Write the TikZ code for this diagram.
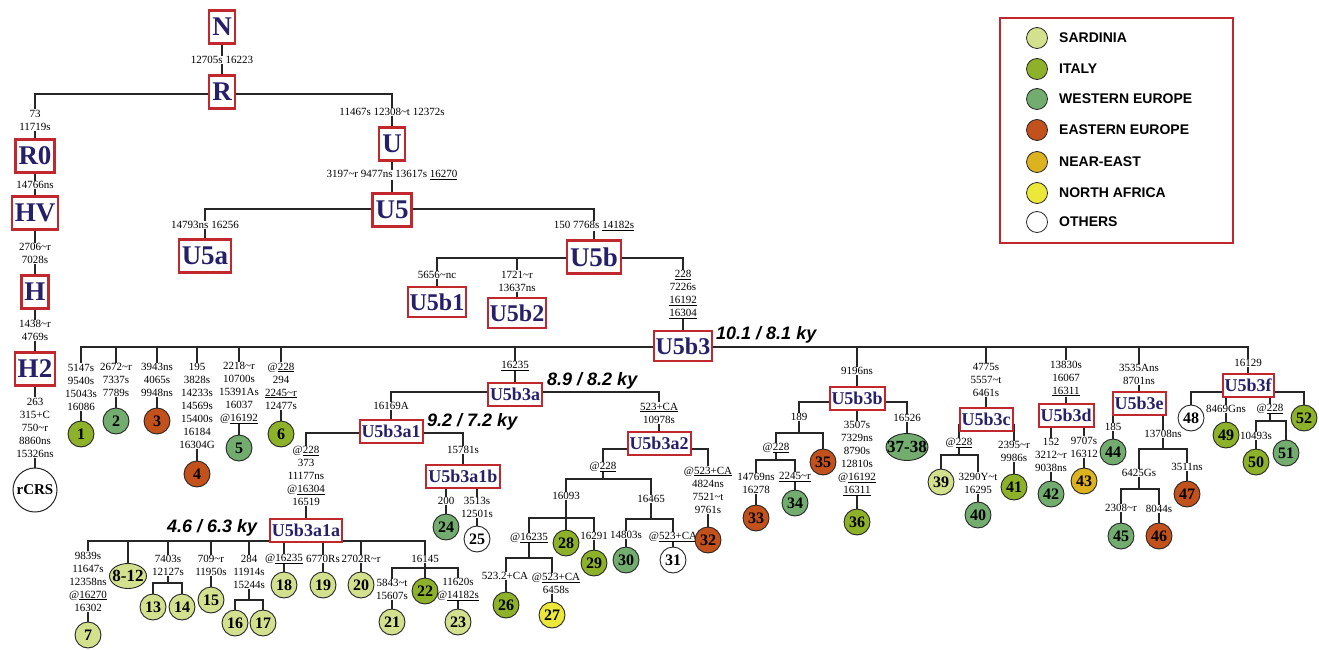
\documentclass[tikz,border=0pt]{standalone}
\usepackage{fontspec}
\setmainfont{Liberation Serif}
\setsansfont{Liberation Sans}
\usetikzlibrary{backgrounds,shapes.geometric}
\definecolor{boxred}{RGB}{192,40,45}
\definecolor{navy}{RGB}{38,32,105}
\definecolor{csar}{RGB}{211,225,143}
\definecolor{cita}{RGB}{141,178,42}
\definecolor{cweu}{RGB}{114,172,110}
\definecolor{ceeu}{RGB}{195,81,28}
\definecolor{cnea}{RGB}{221,178,31}
\definecolor{cnaf}{RGB}{236,232,58}
\newcommand\mytl{\textasciitilde}
\newcommand\uln[1]{\underline{#1}}
\begin{document}
\begin{tikzpicture}[x=1pt,y=-1pt,
  tree/.style={line width=1.4pt, draw=black!85, line cap=rect},
  hbox/.style={draw=boxred, fill=white, text=navy, inner xsep=2pt, inner ysep=1pt},
  big/.style={hbox, line width=2.3pt, font=\fontsize{27}{27}\selectfont\bfseries, minimum height=33pt, inner xsep=3pt},
  mid/.style={hbox, line width=2.2pt, font=\fontsize{24}{24}\selectfont\bfseries, minimum height=30pt},
  sm/.style={hbox, line width=2pt, font=\fontsize{18}{18}\selectfont\bfseries, minimum height=23pt},
  mut/.style={font=\fontsize{11}{13}\selectfont, align=center, inner sep=1pt},
  leaf/.style={circle, draw=black!85, line width=0.9pt, fill=white, minimum size=26pt, inner sep=0pt, font=\fontsize{16}{16}\selectfont\bfseries},
  ell/.style={ellipse, draw=black!85, line width=0.9pt, inner sep=0pt, font=\fontsize{17}{17}\selectfont\bfseries},
  sar/.style={fill=csar}, ita/.style={fill=cita}, weu/.style={fill=cweu},
  eeu/.style={fill=ceeu}, nea/.style={fill=cnea}, naf/.style={fill=cnaf},
  ky/.style={font=\fontsize{18}{18}\selectfont\sffamily\bfseries\itshape, inner sep=0pt, anchor=west},
  legdot/.style={circle, draw=black!85, line width=0.8pt, minimum size=21pt, inner sep=0pt},
  legtxt/.style={font=\fontsize{14}{14}\selectfont\sffamily\bfseries, inner sep=0pt, anchor=west}
]
\useasboundingbox (0,0) rectangle (1319,650);

% ---------- top of tree ----------
\node[big] (N) at (222,27) {N};
\node[mut] (mNR) at (222,60) {12705s 16223};
\node[big] (R) at (222,92) {R};
\coordinate (jR0) at (35,94);
\coordinate (jU) at (392,94);
\node[mut] (mR0) at (35,120) {73\\11719s};
\node[big] (R0) at (35,156) {R0};
\node[mut] (mHV) at (35,185) {14766ns};
\node[big] (HV) at (35,213) {HV};
\node[mut] (mH) at (35,253.5) {2706\mytl r\\7028s};
\node[big] (H) at (35,292) {H};
\node[mut] (mH2) at (35,330.5) {1438\mytl r\\4769s};
\node[big] (H2) at (35,369) {H2};
\node[mut] (mrC) at (35,427.5) {263\\315+C\\750\mytl r\\8860ns\\15326ns};
\node[circle, draw=black!85, line width=1pt, minimum size=44pt, inner sep=0pt, font=\fontsize{15}{15}\selectfont\bfseries] (rCRS) at (35,490) {rCRS};

\node[mut] (mU) at (392,112) {11467s 12308\mytl t 12372s};
\node[big] (U) at (392,144) {U};
\node[mut] (mU5) at (392,175) {3197\mytl r 9477ns 13617s \uln{16270}};
\node[big] (U5) at (392,210) {U5};
\coordinate (jU5a) at (205,209);
\coordinate (jU5b) at (594,209);
\node[mut] (mU5a) at (205,225) {14793ns 16256};
\node[big] (U5a) at (205,256) {U5a};
\node[mut] (mU5b) at (594,226) {150 7768s \uln{14182s}};
\node[big] (U5b) at (594,257) {U5b};
\coordinate (jB1) at (437,258);
\coordinate (jB2) at (517,258);
\coordinate (jB3) at (683,258);
\node[mut] (mB1) at (437,275) {5656\mytl nc};
\node[mid] (U5b1) at (437,302) {U5b1};
\node[mut] (mB2) at (517,281) {1721\mytl r\\13637ns};
\node[mid] (U5b2) at (517,313) {U5b2};
\node[mut] (mB3) at (683,294.5) {\uln{228}\\7226s\\\uln{16192}\\\uln{16304}};
\node[mid] (U5b3) at (683,346) {U5b3};
\node[ky] (k1) at (716,335) {10.1 / 8.1 ky};

% ---------- U5b3 children ----------
\coordinate (jc1) at (81,347);
\coordinate (jc2) at (116,347);
\coordinate (jc3) at (157,347);
\coordinate (jc4) at (197,347);
\coordinate (jc5) at (239,347);
\coordinate (jc6) at (281,347);
\coordinate (jc7) at (515,347);
\coordinate (jc8) at (857,347);
\coordinate (jc9) at (986,347);
\coordinate (jc10) at (1066,347);
\coordinate (jc11) at (1139,347);
\coordinate (jc12) at (1248,347);

\node[mut] (m1) at (81,387) {5147s\\9540s\\15043s\\16086};
\node[leaf,ita] (n1) at (81,434) {1};
\node[mut] (m2) at (116,380) {2672\mytl r\\7337s\\7789s};
\node[leaf,weu] (n2) at (116,421) {2};
\node[mut] (m3) at (157,380) {3943ns\\4065s\\9948ns};
\node[leaf,eeu] (n3) at (157,421) {3};
\node[mut] (m4) at (197,406) {195\\3828s\\14233s\\14569s\\15400s\\16184\\16304G};
\node[leaf,eeu] (n4) at (197,474) {4};
\node[mut] (m5) at (239,393) {2218\mytl r\\10700s\\15391As\\16037\\@\uln{16192}};
\node[leaf,weu] (n5) at (239,448) {5};
\node[mut] (m6) at (281,386) {@\uln{228}\\294\\\uln{2245\mytl r}\\12477s};
\node[leaf,ita] (n6) at (281,434) {6};

% U5b3a
\node[mut] (mA) at (515,366) {\uln{16235}};
\node[sm] (U5b3a) at (515,394) {U5b3a};
\node[ky] (k2) at (547,381) {8.9 / 8.2 ky};
\coordinate (jA1) at (391,392);
\coordinate (jA2) at (659,392);
\node[mut] (mA1) at (391,406) {16169A};
\node[sm] (U5b3a1) at (391,431) {U5b3a1};
\node[ky] (k3) at (427,422) {9.2 / 7.2 ky};
\coordinate (jA1a) at (306,433);
\coordinate (jA1b) at (463,433);
\node[mut] (mA1a) at (306,476) {@\uln{228}\\373\\11177ns\\@\uln{16304}\\16519};
\node[sm] (U5b3a1a) at (306,530) {U5b3a1a};
\node[ky] (k4) at (167,528) {4.6 / 6.3 ky};

\coordinate (jd7) at (88,541);
\coordinate (jd8) at (128,541);
\coordinate (jd13) at (168,541);
\coordinate (jd15) at (211,541);
\coordinate (jd16) at (249,541);
\coordinate (jd18) at (284,541);
\coordinate (jd19) at (323,541);
\coordinate (jd20) at (361,541);
\coordinate (jd22) at (425,541);

\node[mut] (m7) at (88,581.5) {9839s\\11647s\\12358ns\\@\uln{16270}\\16302};
\node[leaf,sar] (n7) at (88,635) {7};
\node[ell,sar,minimum width=37pt,minimum height=25pt] (n8) at (128,576) {\makebox[0pt]{8-12}};
\node[mut] (m13) at (168,565.5) {7403s\\12127s};
\coordinate (j13) at (168,583);
\coordinate (j13a) at (153,583);
\coordinate (j13b) at (182,583);
\node[leaf,sar] (n13) at (153,607) {13};
\node[leaf,sar] (n14) at (182,607) {14};
\node[mut] (m15) at (211,565.5) {709\mytl r\\11950s};
\node[leaf,sar] (n15) at (211,600) {15};
\node[mut] (m16) at (249,572) {284\\11914s\\15244s};
\coordinate (j16) at (249,600);
\coordinate (j16a) at (235,600);
\coordinate (j16b) at (263,600);
\node[leaf,sar] (n16) at (235,623) {16};
\node[leaf,sar] (n17) at (263,623) {17};
\node[mut] (m18) at (284,559) {@\uln{16235}};
\node[leaf,sar] (n18) at (284,585) {18};
\node[mut] (m19) at (323,559) {6770Rs};
\node[leaf,sar] (n19) at (323,585) {19};
\node[mut] (m20) at (361,559) {2702R\mytl r};
\node[leaf,sar] (n20) at (361,585) {20};
\node[mut] (m22) at (425,559) {16145};
\coordinate (j22) at (425,568);
\coordinate (j21) at (392,568);
\coordinate (j23) at (458,568);
\node[mut] (m21) at (392,589.5) {5843\mytl t\\15607s};
\node[leaf,sar] (n21) at (392,622) {21};
\node[leaf,ita] (n22) at (425,591) {22};
\node[mut] (m23) at (458,589.5) {11620s\\@\uln{14182s}};
\node[leaf,sar] (n23) at (458,622) {23};

% U5b3a1b
\node[mut] (mA1b) at (463,450) {15781s};
\node[sm] (U5b3a1b) at (463,476) {U5b3a1b};
\coordinate (j24) at (446,476);
\coordinate (j25) at (477,476);
\node[mut] (m24) at (446,501) {200};
\node[leaf,weu] (n24) at (446,527) {24};
\node[mut] (m25) at (477,507.5) {3513s\\12501s};
\node[leaf] (n25) at (477,539) {25};

% U5b3a2
\node[mut] (mA2) at (659,413) {\uln{523+CA}\\10978s};
\node[sm] (U5b3a2) at (659,443) {U5b3a2};
\coordinate (jE1) at (603,449);
\coordinate (jE2) at (708,449);
\node[mut] (mE1) at (603,467) {@\uln{228}};
\coordinate (jF) at (603,479);
\coordinate (jF1) at (566,479);
\coordinate (jF2) at (651,479);
\node[mut] (mF1) at (566,496) {16093};
\coordinate (jG) at (566,518);
\coordinate (jG1) at (529,518);
\coordinate (jG2) at (594,518);
\node[mut] (mG1) at (529,538) {@\uln{16235}};
\coordinate (jH) at (529,558);
\coordinate (jH1) at (506,558);
\coordinate (jH2) at (552,558);
\node[mut] (m26) at (505,576) {523.2+CA};
\node[leaf,ita] (n26) at (506,605) {26};
\node[mut] (m27) at (556,583.5) {@\uln{523+CA}\\6458s};
\node[leaf,naf] (n27) at (552,615) {27};
\node[leaf,ita] (n28) at (566,543) {28};
\node[mut] (m29) at (594,536) {16291};
\node[leaf,ita] (n29) at (594,563) {29};
\node[mut] (mF2) at (651,499) {16465};
\coordinate (jI) at (651,519);
\coordinate (jI1) at (626,519);
\coordinate (jI2) at (673,519);
\node[mut] (m30) at (626,535) {14803s};
\node[leaf,weu] (n30) at (626,560) {30};
\node[mut] (m31) at (673,537) {@\uln{523+CA}};
\node[leaf] (n31) at (673,560) {31};
\node[mut] (m32) at (708,490) {@\uln{523+CA}\\4824ns\\7521\mytl t\\9761s};
\node[leaf,eeu] (n32) at (708,540) {32};

% U5b3b
\node[mut] (mB) at (857,371) {9196ns};
\node[sm] (U5b3b) at (857,398) {U5b3b};
\coordinate (jK1) at (799,402);
\coordinate (jK3) at (907,402);
\node[mut] (mK1) at (799,417) {189};
\coordinate (jL) at (799,433);
\coordinate (jL1) at (776,433);
\coordinate (jL2) at (823,433);
\node[mut] (mL1) at (776,448) {@\uln{228}};
\coordinate (jM) at (776,460);
\coordinate (jM1) at (756,460);
\coordinate (jM2) at (795,460);
\node[mut] (m33) at (756,483.5) {14769ns\\16278};
\node[leaf,eeu] (n33) at (756,518) {33};
\node[mut] (m34) at (795,477) {\uln{2245\mytl r}};
\node[leaf,weu] (n34) at (795,503) {34};
\node[leaf,eeu] (n35) at (823,462) {35};
\node[mut] (m36) at (857,458.5) {3507s\\7329ns\\8790s\\12810s\\@\uln{16192}\\\uln{16311}};
\node[leaf,ita] (n36) at (857,522) {36};
\node[mut] (m37) at (907,418) {16526};
\node[ell,weu,minimum width=42pt,minimum height=27pt] (n37) at (907,447) {\makebox[0pt]{37-38}};

% U5b3c
\node[mut] (mC) at (986,380) {4775s\\5557\mytl t\\6461s};
\node[sm] (U5b3c) at (986,419) {U5b3c};
\coordinate (jN1) at (959,425);
\coordinate (jN2) at (1014,425);
\node[mut] (mN1) at (959,443) {@\uln{228}};
\coordinate (jO) at (959,455);
\coordinate (jO1) at (941,455);
\coordinate (jO2) at (978,455);
\node[leaf,sar] (n39) at (941,482) {39};
\node[mut] (m40) at (978,483) {3290Y\mytl t\\16295};
\node[leaf,weu] (n40) at (978,515) {40};
\node[mut] (m41) at (1014,451.5) {2395\mytl r\\9986s};
\node[leaf,ita] (n41) at (1014,487) {41};

% U5b3d
\node[mut] (mD) at (1066,378.5) {13830s\\16067\\\uln{16311}};
\node[sm] (U5b3d) at (1066,415.5) {U5b3d};
\coordinate (jP1) at (1051,422);
\coordinate (jP2) at (1084,422);
\node[mut] (m42) at (1051,455) {152\\3212\mytl r\\9038ns};
\node[leaf,weu] (n42) at (1051,494) {42};
\node[mut] (m43) at (1084,447) {9707s\\16312};
\node[leaf,nea] (n43) at (1084,481) {43};

% U5b3e
\node[mut] (mEe) at (1139,374.5) {3535Ans\\8701ns};
\node[sm] (U5b3e) at (1139,403.5) {U5b3e};
\coordinate (jQ1) at (1113,410);
\coordinate (jQ2) at (1163,410);
\node[mut] (m44) at (1113,427) {185};
\node[leaf,weu] (n44) at (1113,452) {44};
\node[mut] (mQ2) at (1163,434) {13708ns};
\coordinate (jR) at (1163,449);
\coordinate (jR1) at (1139,449);
\coordinate (jR2) at (1187,449);
\node[mut] (mR1) at (1139,473) {6425Gs};
\coordinate (jS) at (1139,489);
\coordinate (jS1) at (1121,489);
\coordinate (jS2) at (1159,489);
\node[mut] (m45) at (1121,508) {2308\mytl r};
\node[leaf,weu] (n45) at (1121,536) {45};
\node[mut] (m46) at (1159,509) {8044s};
\node[leaf,eeu] (n46) at (1159,536) {46};
\node[mut] (m47) at (1187,467) {3511ns};
\node[leaf,eeu] (n47) at (1187,494) {47};

% U5b3f
\node[mut] (mFf) at (1248,363) {16129};
\node[sm] (U5b3f) at (1248,385) {U5b3f};
\coordinate (jT1) at (1191,392);
\coordinate (jT2) at (1226,392);
\coordinate (jT3) at (1270,392);
\coordinate (jT4) at (1304,392);
\node[leaf] (n48) at (1191,418) {48};
\node[mut] (m49) at (1226,409) {8469Gns};
\node[leaf,ita] (n49) at (1226,435) {49};
\node[mut] (mT3) at (1270,409) {@\uln{228}};
\coordinate (jV) at (1270,421);
\coordinate (jV1) at (1256,421);
\coordinate (jV2) at (1286,421);
\node[mut] (m50) at (1256,436) {10493s};
\node[leaf,ita] (n50) at (1256,462) {50};
\node[leaf,weu] (n51) at (1286,453) {51};
\node[leaf,ita] (n52) at (1304,418) {52};

% ---------- legend ----------
\node[draw=boxred, line width=2pt, minimum width=233pt, minimum height=225pt, inner sep=0pt, anchor=north west] (leg) at (999,17) {};
\foreach \yy/\cc/\lab [count=\i] in {38/csar/SARDINIA, 69/cita/ITALY, 99/cweu/WESTERN EUROPE, 130/ceeu/EASTERN EUROPE, 162/cnea/NEAR-EAST, 193/cnaf/NORTH AFRICA, 222/white/OTHERS}{
  \node[legdot, fill=\cc] (d\i) at (1037,\yy) {};
  \node[legtxt] (t\i) at (1059,\yy) {\lab};
}

% ---------- connectors ----------
\begin{pgfonlayer}{background}
\draw[tree] (N) -- (mNR) -- (R);
\draw[tree] (jR0) -- (jU);
\draw[tree] (jR0) -- (mR0) -- (R0) -- (mHV) -- (HV) -- (mH) -- (H) -- (mH2) -- (H2) -- (mrC) -- (rCRS);
\draw[tree] (jU) -- (mU) -- (U) -- (mU5) -- (U5);
\draw[tree] (jU5a) -- (jU5b);
\draw[tree] (jU5a) -- (mU5a) -- (U5a);
\draw[tree] (jU5b) -- (mU5b) -- (U5b);
\draw[tree] (jB1) -- (jB3);
\draw[tree] (jB1) -- (mB1) -- (U5b1);
\draw[tree] (jB2) -- (mB2) -- (U5b2);
\draw[tree] (jB3) -- (mB3) -- (U5b3);
% main bar
\draw[tree] (jc1) -- (jc12);
\draw[tree] (jc1) -- (m1) -- (n1);
\draw[tree] (jc2) -- (m2) -- (n2);
\draw[tree] (jc3) -- (m3) -- (n3);
\draw[tree] (jc4) -- (m4) -- (n4);
\draw[tree] (jc5) -- (m5) -- (n5);
\draw[tree] (jc6) -- (m6) -- (n6);
% U5b3a
\draw[tree] (jc7) -- (mA) -- (U5b3a);
\draw[tree] (jA1) -- (jA2);
\draw[tree] (jA1) -- (mA1) -- (U5b3a1);
\draw[tree] (jA1a) -- (jA1b);
\draw[tree] (jA1a) -- (mA1a) -- (U5b3a1a);
\draw[tree] (jd7) -- (jd22);
\draw[tree] (jd7) -- (m7) -- (n7);
\draw[tree] (jd8) -- (n8);
\draw[tree] (jd13) -- (m13) -- (j13);
\draw[tree] (j13a) -- (j13b);
\draw[tree] (j13a) -- (n13);
\draw[tree] (j13b) -- (n14);
\draw[tree] (jd15) -- (m15) -- (n15);
\draw[tree] (jd16) -- (m16) -- (j16);
\draw[tree] (j16a) -- (j16b);
\draw[tree] (j16a) -- (n16);
\draw[tree] (j16b) -- (n17);
\draw[tree] (jd18) -- (m18) -- (n18);
\draw[tree] (jd19) -- (m19) -- (n19);
\draw[tree] (jd20) -- (m20) -- (n20);
\draw[tree] (jd22) -- (m22) -- (j22) -- (n22);
\draw[tree] (j21) -- (j23);
\draw[tree] (j21) -- (m21) -- (n21);
\draw[tree] (j23) -- (m23) -- (n23);
\draw[tree] (jA1b) -- (mA1b) -- (U5b3a1b);
\draw[tree] (j24) -- (j25);
\draw[tree] (j24) -- (m24) -- (n24);
\draw[tree] (j25) -- (m25) -- (n25);
% U5b3a2
\draw[tree] (jA2) -- (mA2) -- (U5b3a2);
\draw[tree] (jE1) -- (jE2);
\draw[tree] (jE1) -- (mE1) -- (jF);
\draw[tree] (jF1) -- (jF2);
\draw[tree] (jF1) -- (mF1) -- (jG) -- (n28);
\draw[tree] (jG1) -- (jG2);
\draw[tree] (jG1) -- (mG1) -- (jH);
\draw[tree] (jH1) -- (jH2);
\draw[tree] (jH1) -- (jH1 |- m26.north);
\draw[tree] (jH1 |- m26.south) -- (n26);
\draw[tree] (jH2) -- (jH2 |- m27.north);
\draw[tree] (jH2 |- m27.south) -- (n27);
\draw[tree] (jG2) -- (m29) -- (n29);
\draw[tree] (jF2) -- (mF2) -- (jI);
\draw[tree] (jI1) -- (jI2);
\draw[tree] (jI1) -- (m30) -- (n30);
\draw[tree] (jI2) -- (m31) -- (n31);
\draw[tree] (jE2) -- (m32) -- (n32);
% U5b3b
\draw[tree] (jc8) -- (mB) -- (U5b3b);
\draw[tree] (jK1) -- (jK3);
\draw[tree] (jK1) -- (mK1) -- (jL);
\draw[tree] (jL1) -- (jL2);
\draw[tree] (jL1) -- (mL1) -- (jM);
\draw[tree] (jM1) -- (jM2);
\draw[tree] (jM1) -- (m33) -- (n33);
\draw[tree] (jM2) -- (m34) -- (n34);
\draw[tree] (jL2) -- (n35);
\draw[tree] (U5b3b) -- (m36) -- (n36);
\draw[tree] (jK3) -- (m37) -- (n37);
% U5b3c
\draw[tree] (jc9) -- (mC) -- (U5b3c);
\draw[tree] (jN1) -- (jN2);
\draw[tree] (jN1) -- (mN1) -- (jO);
\draw[tree] (jO1) -- (jO2);
\draw[tree] (jO1) -- (n39);
\draw[tree] (jO2) -- (m40) -- (n40);
\draw[tree] (jN2) -- (m41) -- (n41);
% U5b3d
\draw[tree] (jc10) -- (mD) -- (U5b3d);
\draw[tree] (jP1) -- (jP2);
\draw[tree] (jP1) -- (m42) -- (n42);
\draw[tree] (jP2) -- (m43) -- (n43);
% U5b3e
\draw[tree] (jc11) -- (mEe) -- (U5b3e);
\draw[tree] (jQ1) -- (jQ2);
\draw[tree] (jQ1) -- (m44) -- (n44);
\draw[tree] (jQ2) -- (mQ2) -- (jR);
\draw[tree] (jR1) -- (jR2);
\draw[tree] (jR1) -- (mR1) -- (jS);
\draw[tree] (jS1) -- (jS2);
\draw[tree] (jS1) -- (m45) -- (n45);
\draw[tree] (jS2) -- (m46) -- (n46);
\draw[tree] (jR2) -- (m47) -- (n47);
% U5b3f
\draw[tree] (jc12) -- (mFf) -- (U5b3f);
\draw[tree] (jT1) -- (jT4);
\draw[tree] (jT1) -- (n48);
\draw[tree] (jT2) -- (m49) -- (n49);
\draw[tree] (jT3) -- (mT3) -- (jV);
\draw[tree] (jV1) -- (jV2);
\draw[tree] (jV1) -- (m50) -- (n50);
\draw[tree] (jV2) -- (n51);
\draw[tree] (jT4) -- (n52);
\end{pgfonlayer}
\end{tikzpicture}
\end{document}
